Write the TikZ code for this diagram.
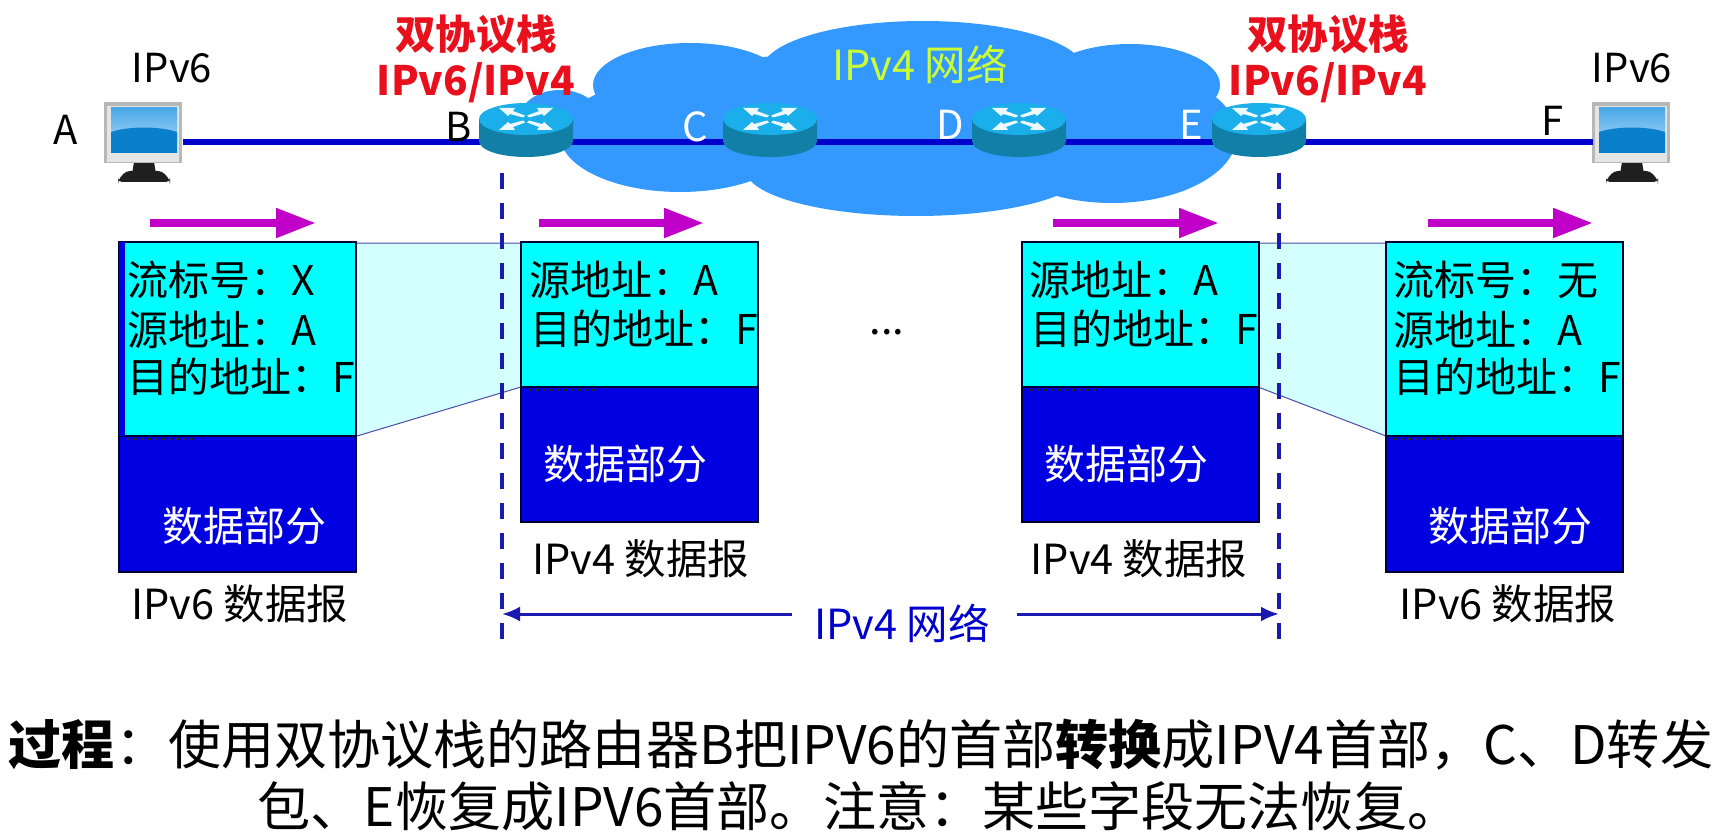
\documentclass[tikz,border=0pt]{standalone}
\usepackage{fontspec}
\setmainfont{Noto Sans CJK SC}
\usetikzlibrary{arrows.meta}
\definecolor{cloudblue}{HTML}{3399FF}
\definecolor{linkblue}{HTML}{0000CC}
\definecolor{dashblue}{HTML}{1A1AB0}
\definecolor{flowmagenta}{HTML}{C000C8}
\definecolor{headcyan}{HTML}{00FFFF}
\definecolor{fadecyan}{HTML}{D4FFFF}
\definecolor{bodyblue}{HTML}{0000E0}
\definecolor{routerside}{HTML}{117FA6}
\definecolor{routertop}{HTML}{1AAEEA}
\definecolor{netlabel}{HTML}{CCFF33}
\definecolor{stackred}{HTML}{E8101C}
\definecolor{screenlow}{HTML}{0A80CC}
\definecolor{screenhigh}{HTML}{B8E0F8}
\definecolor{screenmid}{HTML}{4AA8E8}
\tikzset{
  x=1pt,y=-1pt,
  anchorbox/.style={inner sep=0pt,outer sep=0pt},
  label/.style={inner sep=0pt,font=\fontsize{40}{44}\selectfont},
  small/.style={inner sep=0pt,font=\fontsize{41.5}{44}\selectfont},
  stack/.style={inner sep=0pt,text=stackred,font=\fontsize{40.5}{44}\selectfont\bfseries},
  field/.style={inner sep=0pt,anchor=west,font=\fontsize{41}{44}\selectfont},
  bodytext/.style={inner sep=0pt,text=white,font=\fontsize{41}{44}\selectfont},
  para/.style={inner sep=0pt,font=\fontsize{53.1}{58}\selectfont},
  link/.style={linkblue,line width=6pt},
  flow/.style={flowmagenta,line width=8pt,-{Triangle[length=40pt,width=28pt]}},
  rangeline/.style={dashblue,line width=3pt},
  rangetip/.style={-{Latex[length=18pt,width=15pt]}},
  boundary/.style={dashblue,line width=3.5pt,dash pattern=on 16pt off 14pt},
  packet/.style={draw=black!80!blue,line width=2pt},
  wedge/.style={fill=fadecyan,draw=none},
  wedgeedge/.style={draw=black!50!blue!70,line width=1pt},
}
% router: cylinder with four white arrows on the lid
\newcommand{\routernode}[3]{%
  \node[anchorbox,minimum width=94pt,minimum height=54pt] (#1) at (#2,#3) {};
  \begin{scope}[shift={(#2,#3)}]
    \fill[routerside] (-47,-23) -- (47,-23) -- (47,-1)
      .. controls (47,8) and (26,15) .. (0,15)
      .. controls (-26,15) and (-47,8) .. (-47,-1) -- cycle;
    \fill[routertop] (0,-23) ellipse[x radius=47,y radius=16];
    \foreach \sx/\sy in {1/1,-1/1,1/-1,-1/-1}{
      \begin{scope}[shift={(0,-23)},xscale=\sx,yscale=\sy]
        \fill[white!92!routertop] (3,1.5) -- (16,5) -- (18,3) -- (27,11) -- (11,11) -- (13,8) -- (1,3.5) -- cycle;
      \end{scope}
    }
  \end{scope}
}
% workstation: grey bezel, blue screen, dark stand
\newcommand{\pcnode}[3]{%
  \node[anchorbox,minimum width=78pt,minimum height=62pt] (#1) at (#2,#3) {};
  \begin{scope}[shift={(#2,#3)}]
    \fill[black!88] (-10,20) -- (10,20) -- (12,32) -- (-12,32) -- cycle;
    \fill[black!88,rounded corners=4pt] (-26,38) -- (-18,29) -- (18,29) -- (26,38) -- (26,40) -- (-26,40) -- cycle;
    \fill[white!72!black] (-40,-40) rectangle (38,21);
    \fill[white!90!black] (-37,-36) rectangle (35,20);
    \shade[top color=screenmid,bottom color=screenhigh] (-33,-34) rectangle (33,11);
    \fill[screenlow] (-33,11) -- (-33,-10) .. controls (-15,-16) and (15,-16) .. (33,-10) -- (33,11) -- cycle;
  \end{scope}
}
% IP datagram: cyan header above a blue payload
\newcommand{\datagram}[5]{%
  \node[anchorbox,minimum width=#3pt,minimum height=#4pt,anchor=north west,fill=headcyan] (#1head) at (#2,242) {};
  \node[anchorbox,minimum width=#3pt,minimum height=#5pt,anchor=north west,fill=bodyblue,packet] (#1body) at (#2,242+#4) {};
  \draw[packet] (#1head.south west) -- (#1head.north west) -- (#1head.north east) -- (#1head.south east);
  \draw[black!85,line width=2pt,dash pattern=on 3pt off 4pt] ([xshift=8pt,yshift=-3pt]#1head.south west) -- ++(66,0);
}
\begin{document}
\begin{tikzpicture}
\useasboundingbox (0,0) rectangle (1725,840);

% cloud built from overlapping lobes
\fill[cloudblue]
  (690,85) ellipse[x radius=97,y radius=42]
  (923,70) ellipse[x radius=161,y radius=49]
  (1130,85) ellipse[x radius=90,y radius=41]
  (1112,135) ellipse[x radius=125,y radius=68]
  (680,135) ellipse[x radius=120,y radius=57]
  (560,118) ellipse[x radius=40,y radius=28]
  (916,170) ellipse[x radius=170,y radius=46]
  (900,110) ellipse[x radius=290,y radius=60];

% translucent wedges between datagrams
\fill[wedge] (357,243) -- (521,243) -- (521,387) -- (357,436) -- cycle;
\fill[wedge] (1258,243) -- (1386,243) -- (1386,436) -- (1258,387) -- cycle;
\draw[wedgeedge] (357,243) -- (521,243) (357,436) -- (521,387);
\draw[wedgeedge] (1258,243) -- (1386,243) (1258,387) -- (1386,436);

% end hosts and routers
\pcnode{pcA}{144}{142}
\pcnode{pcF}{1632}{142}
\draw[link] (pcA.east) -- (pcF.west);
\routernode{rB}{526}{142}
\routernode{rC}{770}{142}
\routernode{rD}{1019}{142}
\routernode{rE}{1259}{142}

% network boundary markers
\coordinate (bTop) at (502,173);
\coordinate (bBot) at (502,640);
\coordinate (eTop) at (1279,173);
\coordinate (eBot) at (1279,640);
\draw[boundary] (bTop) -- (bBot);
\draw[boundary] (eTop) -- (eBot);

% flow direction arrows
\coordinate (f1a) at (150,223); \coordinate (f1b) at (316,223);
\coordinate (f2a) at (539,223); \coordinate (f2b) at (704,223);
\coordinate (f3a) at (1053,223); \coordinate (f3b) at (1219,223);
\coordinate (f4a) at (1428,223); \coordinate (f4b) at (1593,223);
\draw[flow] (f1a) -- (f1b);
\draw[flow] (f2a) -- (f2b);
\draw[flow] (f3a) -- (f3b);
\draw[flow] (f4a) -- (f4b);

% datagrams
\datagram{dA}{119}{237}{194}{136}
\datagram{dB}{521}{237}{145}{135}
\datagram{dE}{1022}{237}{145}{135}
\datagram{dF}{1386}{237}{194}{136}
\fill[bodyblue] (dAhead.north west) rectangle ([xshift=6pt]dAhead.south west);

\node[field] (a1) at (127,280) {流标号：X};
\node[field] (a2) at (127,330) {源地址：A};
\node[field] (a3) at (127,377) {目的地址：F};
\node[field] (b1) at (529,280) {源地址：A};
\node[field] (b2) at (530,329) {目的地址：F};
\node[field] (e1) at (1029,280) {源地址：A};
\node[field] (e2) at (1030,329) {目的地址：F};
\node[field] (f1) at (1393,280) {流标号：无};
\node[field] (f2) at (1393,330) {源地址：A};
\node[field] (f3) at (1393,377) {目的地址：F};

\node[bodytext] (ab) at (244,526) {数据部分};
\node[bodytext] (bb) at (625,464) {数据部分};
\node[bodytext] (eb) at (1126,464) {数据部分};
\node[bodytext] (fb) at (1510,526) {数据部分};

\node[small] (acap) at (240,604) {IPv6 数据报};
\node[small] (bcap) at (641,559) {IPv4 数据报};
\node[small] (ecap) at (1139,559) {IPv4 数据报};
\node[small] (fcap) at (1508,604) {IPv6 数据报};

\node[small] (gap) at (887,332) {...};

% extent of the IPv4 network
\node[small,text=linkblue] (range) at (902,623) {IPv4 网络};
\coordinate (rangeL) at (502,614);
\coordinate (rangeR) at (1279,614);
\coordinate (rangeLin) at (792,614);
\coordinate (rangeRin) at (1017,614);
\draw[rangeline,rangetip] (rangeLin) -- (rangeL);
\draw[rangeline,rangetip] (rangeRin) -- (rangeR);

% host, router and network labels
\node[label] (ipa) at (172,68) {IPv6};
\node[label] (ipf) at (1632,68) {IPv6};
\node[label] (la) at (66,130) {A};
\node[label] (lf) at (1553,121) {F};
\node[label] (lb) at (459,127) {B};
\node[label,text=white] (lc) at (695,127) {C};
\node[label,text=white] (ld) at (950,125) {D};
\node[label,text=white] (le) at (1191,125) {E};
\node[small,text=netlabel] (cloudname) at (920,64) {IPv4 网络};
\node[stack] (s1) at (476,34) {双协议栈};
\node[stack] (s2) at (476,83) {IPv6/IPv4};
\node[stack] (s3) at (1328,34) {双协议栈};
\node[stack] (s4) at (1328,83) {IPv6/IPv4};

% explanation
\node[para] (p1) at (861,745) {\textbf{过程}：使用双协议栈的路由器B把IPV6的首部\textbf{转换}成IPV4首部，C、D转发};
\node[para] (p2) at (859,806) {包、E恢复成IPV6首部。注意：某些字段无法恢复。};
\end{tikzpicture}
\end{document}
